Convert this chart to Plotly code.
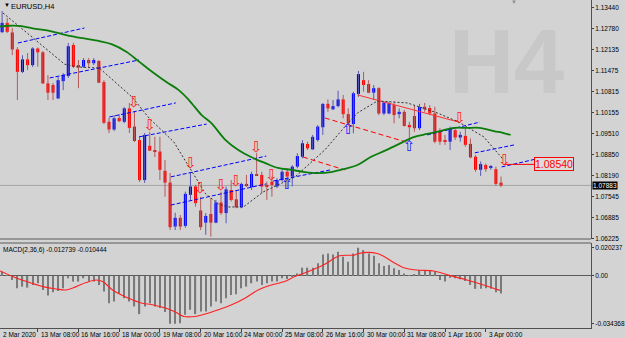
import plotly.graph_objects as go

# ---------------- data ----------------
bar_idx = list(range(1, 100))
opens = [1.1267,1.1296,1.1266,1.1213,1.1143,1.1182,1.1164,1.1216,1.1204,1.1107,
         1.1102,1.1060,1.1114,1.1130,1.1227,1.1164,1.1159,1.1180,1.1170,1.1177,
         1.1111,1.0987,1.0963,1.0999,1.0987,1.1029,1.0972,1.0930,1.0805,1.0912,
         1.0899,1.0894,1.0834,1.0797,1.0660,1.0687,1.0662,1.0759,1.0785,1.0710,
         1.0672,1.0699,1.0672,1.0735,1.0702,1.0774,1.0745,1.0720,1.0793,1.0783,
         1.0824,1.0821,1.0790,1.0800,1.0785,1.0805,1.0831,1.0816,1.0847,1.0878,
         1.0918,1.0901,1.0930,1.0970,1.1043,1.1026,1.1036,1.1057,1.1011,1.0980,
         1.1074,1.1117,1.1105,1.1078,1.1092,1.1013,1.1013,1.1039,1.1011,1.1018,
         1.0977,1.1005,1.0967,1.1034,1.1030,1.1013,1.0956,1.0930,1.0925,1.0961,
         1.0938,1.0943,1.0918,1.0878,1.0837,1.0852,1.0845,1.0839,1.0797]
highs = [1.1333,1.1311,1.1280,1.1220,1.1195,1.1202,1.1220,1.1219,1.1208,1.1133,
         1.1108,1.1127,1.1139,1.1233,1.1234,1.1180,1.1186,1.1186,1.1186,1.1180,
         1.1117,1.0999,1.1008,1.1011,1.1033,1.1046,1.1018,1.0940,1.0952,1.0956,
         1.0940,1.0940,1.0868,1.0827,1.0703,1.0696,1.0769,1.0827,1.0790,1.0753,
         1.0702,1.0749,1.0743,1.0769,1.0785,1.0805,1.0774,1.0797,1.0821,1.0831,
         1.0889,1.0831,1.0800,1.0816,1.0811,1.0837,1.0842,1.0852,1.0889,1.0930,
         1.0925,1.0946,1.0977,1.1045,1.1057,1.1055,1.1084,1.1071,1.1029,1.1081,
         1.1146,1.1143,1.1117,1.1102,1.1095,1.1050,1.1050,1.1050,1.1029,1.1024,
         1.0987,1.1039,1.1043,1.1046,1.1039,1.1034,1.0967,1.0946,1.0972,1.0967,
         1.0956,1.0967,1.0935,1.0883,1.0863,1.0857,1.0852,1.0847,1.0816]
lows = [1.1264,1.1264,1.1195,1.1055,1.1139,1.1149,1.1158,1.1159,1.1105,1.1055,
        1.1055,1.1058,1.1086,1.1124,1.1155,1.1092,1.1155,1.1158,1.1164,1.1108,
        1.0980,1.0952,1.0958,1.0986,1.0983,1.0952,1.0924,1.0799,1.0796,1.0896,
        1.0877,1.0805,1.0753,1.0649,1.0649,1.0649,1.0656,1.0743,1.0722,1.0649,
        1.0634,1.0628,1.0670,1.0696,1.0670,1.0738,1.0717,1.0717,1.0784,1.0774,
        1.0818,1.0764,1.0743,1.0753,1.0780,1.0800,1.0780,1.0785,1.0842,1.0873,
        1.0899,1.0899,1.0925,1.0946,1.1018,1.1024,1.1032,1.0998,1.0977,1.0951,
        1.1065,1.1081,1.1076,1.1055,1.1008,1.1008,1.1011,1.0982,1.0998,1.0972,
        1.0925,1.0956,1.0961,1.1018,1.1008,1.0920,1.0915,1.0915,1.0899,1.0930,
        1.0925,1.0909,1.0873,1.0831,1.0818,1.0831,1.0837,1.0787,1.0783]
closes = [1.1296,1.1268,1.1213,1.1143,1.1182,1.1164,1.1216,1.1204,1.1107,1.1078,
          1.1078,1.1117,1.1133,1.1223,1.1159,1.1157,1.1180,1.1170,1.1180,1.1109,
          1.0984,1.0963,1.0998,1.0989,1.1029,1.0968,1.0927,1.0805,1.0946,1.0897,
          1.0893,1.0837,1.0797,1.0658,1.0687,1.0660,1.0762,1.0785,1.0733,1.0658,
          1.0693,1.0672,1.0735,1.0702,1.0776,1.0743,1.0720,1.0793,1.0786,1.0824,
          1.0819,1.0785,1.0785,1.0790,1.0805,1.0831,1.0816,1.0847,1.0880,1.0920,
          1.0904,1.0940,1.0972,1.1043,1.1029,1.1036,1.1057,1.1011,1.0982,1.1076,
          1.1136,1.1102,1.1078,1.1092,1.1013,1.1047,1.1045,1.1008,1.1018,1.0974,
          1.0970,1.0967,1.1033,1.1026,1.1013,1.0925,1.0925,1.0925,1.0967,1.0938,
          1.0946,1.0915,1.0876,1.0837,1.0855,1.0839,1.0847,1.0793,1.07883]

# moving average (green)
ma_x = [0.59,2.5,4.8,7.0,10.3,13.6,16.8,20.1,22.6,25.4,27.9,30.4,33.2,35.7,37.7,40.2,
        42.1,44.9,47.4,49.9,52.7,55.2,57.8,60.5,63.0,65.6,68.3,70.8,73.4,76.1,78.6,
        82.0,84.5,87.0,89.8,92.3,94.8,97.6,99.5,100.9]
ma_y = [1.1284,1.1287,1.1286,1.1279,1.1271,1.1258,1.1248,1.1239,1.1229,1.1206,1.1175,
        1.1144,1.1112,1.1086,1.1055,1.1008,1.0983,1.0930,1.0899,1.0877,1.0858,1.0843,
        1.0837,1.0830,1.0827,1.0830,1.0840,1.0852,1.0877,1.0896,1.0915,1.0940,1.0949,
        1.0958,1.0968,1.0968,1.0968,1.0958,1.0952,1.0946]

# dotted zigzag
zz_x = [1.17,13.27,15.80,20.10,26.54,29.85,34.73,40.98,43.51,45.46,48.39,52.29,58.54,
        64.39,68.29,70.83,74.73,80.59,86.44,90.73,95.61,99.51]
zz_y = [1.1327,1.1167,1.1158,1.1155,1.1064,1.0999,1.0924,1.0762,1.0730,1.0721,1.0721,
        1.0768,1.0815,1.0899,1.0971,1.1015,1.1052,1.1046,1.1015,1.0986,1.0940,1.0868]

# blue dashed channel segments
blue_x0 = [4.10,10.34,22.05,27.90,34.15,34.15,54.24,84.49,93.85,99.12]
blue_y0 = [1.1233,1.1124,1.1002,1.0940,1.0815,1.0727,1.0802,1.0946,1.0890,1.0846]
blue_x1 = [17.17,27.90,35.12,41.17,52.88,52.88,65.56,94.83,101.66,105.95]
blue_y1 = [1.1280,1.1180,1.1046,1.0980,1.0880,1.0793,1.0837,1.0986,1.0915,1.0871]

# red dashed segments
red_x0 = [64.39,60.10]
red_y0 = [1.0999,1.0877]
red_x1 = [80.98,68.29]
red_y1 = [1.0921,1.0837]
# red solid segment
reds_x = [70.83,90.73]
reds_y = [1.1071,1.0986]

# level label
level_x = [99.51,105.56]
level_price = 1.08540

# arrows
dn_x = [26.93,29.99,37.99,39.94,44.0,46.93,50.93,53.95,90.87,99.71]
dn_y = [1.1046,1.0974,1.0855,1.0777,1.0787,1.0797,1.0904,1.0816,1.0996,1.0865]
up_x = [56.98,69.0,80.98]
up_y = [1.0790,1.0960,1.0907]

# MACD histogram
macd = [0.0030,0.0005,-0.0029,-0.0089,-0.0077,-0.0084,-0.0065,-0.0053,-0.0101,-0.0141,
        -0.0117,-0.0108,-0.0089,-0.0017,-0.0041,-0.0041,-0.0017,-0.0041,-0.0041,-0.0065,
        -0.0112,-0.0196,-0.0184,-0.0124,-0.0160,-0.0184,-0.0219,-0.0274,-0.0219,-0.0196,
        -0.0219,-0.0231,-0.0260,-0.0344,-0.0344,-0.0340,-0.0279,-0.0243,-0.0274,-0.0255,
        -0.0255,-0.0219,-0.0184,-0.0196,-0.0160,-0.0137,-0.0131,-0.0089,-0.0077,-0.0053,
        -0.0041,-0.0065,-0.0053,-0.0041,-0.0041,-0.0017,-0.0022,-0.0005,0.0018,0.0059,
        0.0059,0.0059,0.0090,0.0154,0.0161,0.0154,0.0173,0.0137,0.0101,0.0161,
        0.0202,0.0185,0.0161,0.0144,0.0090,0.0071,0.0078,0.0054,0.0042,0.0018,
        0.0006,0.0011,0.0042,0.0042,0.0042,0.0035,-0.0029,-0.0041,-0.0013,-0.0017,
        -0.0024,-0.0036,-0.0065,-0.0093,-0.0093,-0.0089,-0.0093,-0.0117,-0.0127]
sig_x = [0.59,3.18,5.8,9.03,11.65,13.6,15.55,17.5,19.45,20.74,22.7,24.64,26.6,28.55,30.5,
         33.1,35.06,36.7,38.97,40.9,43.5,46.1,48.7,51.3,53.9,56.5,58.5,60.4,64.1,67.3,
         70.2,71.0,74.7,78.0,79.9,82.5,85.8,89.0,92.3,95.6,98.8]
sig_y = [0.0035,-0.0006,-0.0041,-0.0077,-0.0094,-0.0101,-0.0077,-0.0048,-0.0029,-0.0041,
         -0.0101,-0.0141,-0.0172,-0.0196,-0.0207,-0.0231,-0.0260,-0.0291,-0.0291,-0.0274,
         -0.0243,-0.0207,-0.0160,-0.0101,-0.0065,-0.0041,-0.0005,0.0020,0.0078,0.0144,
         0.0149,0.0161,0.0161,0.0095,0.0059,0.0042,0.0035,0.0002,-0.0029,-0.0065,-0.0104]

price_ticks = [1.13440,1.12780,1.12135,1.11475,1.10815,1.10155,1.09510,1.08850,
               1.08190,1.07545,1.06885,1.06225]
macd_ticks = [0.020237, 0.0, -0.034368]
macd_tick_text = ["0.020237", "0.00", "-0.034368"]
date_idx = [8,16,24,32,40,48,56,64,72,80,88,96]
date_text = ["13 Mar 08:00","16 Mar 16:00","18 Mar 00:00","19 Mar 08:00","20 Mar 16:00",
             "24 Mar 00:00","25 Mar 08:00","26 Mar 16:00","30 Mar 00:00","31 Mar 08:00",
             "1 Apr 16:00","3 Apr 00:00"]
first_date_text = "2 Mar 2020"

# ---------------- figure ----------------
BG = "#d3d3d3"
FONT = "Liberation Sans, Arial, sans-serif"
fig = go.Figure()

bull = [c > o for o, c in zip(opens, closes)]
body_base = [min(o, c) for o, c in zip(opens, closes)]
body_len = [max(abs(c - o), 0.00012) for o, c in zip(opens, closes)]
body_col = ["#0000ff" if b else "#ff0000" for b in bull]

def wick_xy(up):
    xs, ys = [], []
    for i, h, l, b in zip(bar_idx, highs, lows, bull):
        if b == up:
            xs += [i, i, None]
            ys += [l, h, None]
    return xs, ys

for up, col in [(True, "#5a5ab4"), (False, "#b45a5a")]:
    wx, wy = wick_xy(up)
    fig.add_trace(go.Scatter(x=wx, y=wy, mode="lines", line=dict(color=col, width=1),
                             xaxis="x", yaxis="y", hoverinfo="skip"))

fig.add_trace(go.Bar(x=bar_idx, y=body_len, base=body_base, width=0.6,
                     marker=dict(color=body_col, line=dict(width=0)),
                     xaxis="x", yaxis="y"))

def seg_xy(x0, y0, x1, y1):
    xs, ys = [], []
    for a, b, c, d in zip(x0, y0, x1, y1):
        xs += [a, c, None]
        ys += [b, d, None]
    return xs, ys

bx, by = seg_xy(blue_x0, blue_y0, blue_x1, blue_y1)
fig.add_trace(go.Scatter(x=bx, y=by, mode="lines",
                         line=dict(color="#0000ff", width=1, dash="4px,2px"),
                         xaxis="x", yaxis="y"))
rx, ry = seg_xy(red_x0, red_y0, red_x1, red_y1)
fig.add_trace(go.Scatter(x=rx, y=ry, mode="lines",
                         line=dict(color="#ff0000", width=1, dash="5px,3px"),
                         xaxis="x", yaxis="y"))
fig.add_trace(go.Scatter(x=reds_x, y=reds_y, mode="lines",
                         line=dict(color="#ff3030", width=1), xaxis="x", yaxis="y"))
fig.add_trace(go.Scatter(x=zz_x, y=zz_y, mode="lines",
                         line=dict(color="#303030", width=1, dash="2px,2px"),
                         xaxis="x", yaxis="y"))
fig.add_trace(go.Scatter(x=ma_x, y=ma_y, mode="lines", line_shape="spline",
                         line=dict(color="#0b7d0b", width=1.8), xaxis="x", yaxis="y"))
fig.add_trace(go.Scatter(x=level_x, y=[level_price, level_price], mode="lines",
                         line=dict(color="#ff0000", width=1), xaxis="x", yaxis="y"))

fig.add_trace(go.Scatter(x=dn_x, y=dn_y, mode="text", text=["⇩"] * len(dn_x),
                         textfont=dict(color="#ff1a1a", size=15, family="DejaVu Sans"),
                         xaxis="x", yaxis="y"))
fig.add_trace(go.Scatter(x=up_x, y=up_y, mode="text", text=["⇧"] * len(up_x),
                         textfont=dict(color="#1a1aff", size=15, family="DejaVu Sans"),
                         xaxis="x", yaxis="y"))

# MACD pane
fig.add_trace(go.Bar(x=bar_idx, y=macd, width=0.25,
                     marker=dict(color="#7a7a7a", line=dict(width=0)),
                     xaxis="x2", yaxis="y2"))
fig.add_trace(go.Scatter(x=sig_x, y=sig_y, mode="lines", line_shape="spline",
                         line=dict(color="#ff2020", width=1.1), xaxis="x2", yaxis="y2"))

# ---------------- layout ----------------
W, H = 625, 338
MB = 10
PH = H - MB
main_bot = (PH - 239) / PH
macd_top = (PH - 243) / PH
price_top = 1.13674
price_bot = price_top - 239 / 3202
xr = [0.585, 116.68]

axis_common = dict(showgrid=False, zeroline=False, fixedrange=True)
fig.update_layout(
    width=W, height=H, margin=dict(l=0, r=30, t=0, b=MB),
    paper_bgcolor=BG, plot_bgcolor=BG, showlegend=False, barmode="overlay",
    font=dict(family=FONT, size=7, color="#000000"),
    xaxis=dict(domain=[0, 1], range=xr, anchor="y", showticklabels=False,
               showline=False, **axis_common),
    yaxis=dict(domain=[main_bot, 1], range=[price_bot, price_top], side="right",
               tickvals=price_ticks, ticktext=[f"{v:.5f}" for v in price_ticks],
               tickfont=dict(size=6.5), ticks="outside", ticklen=2, tickcolor="#404040",
               showline=True, linecolor="#505050", linewidth=1, anchor="x", **axis_common),
    xaxis2=dict(domain=[0, 1], range=xr, anchor="y2", matches="x", showticklabels=False,
                tickvals=date_idx, ticks="outside", ticklen=3, tickcolor="#404040",
                showline=True, linecolor="#505050", linewidth=1, **axis_common),
    yaxis2=dict(domain=[0, macd_top], range=[-0.0374, 0.0236], side="right",
                tickvals=macd_ticks, ticktext=macd_tick_text, tickfont=dict(size=6.5),
                ticks="outside", ticklen=2, tickcolor="#404040", showline=True,
                linecolor="#505050", linewidth=1, anchor="x2",
                showgrid=False, fixedrange=True, zeroline=True,
                zerolinecolor="#5a5a5a", zerolinewidth=1),
)

shapes = [
    dict(type="line", xref="paper", yref="paper", x0=0, x1=1, y0=main_bot, y1=main_bot,
         line=dict(color="#5a5a5a", width=1)),
    dict(type="line", xref="paper", yref="paper", x0=0, x1=1, y0=macd_top, y1=macd_top,
         line=dict(color="#5a5a5a", width=1)),
    dict(type="line", xref="paper", yref="y", x0=0, x1=1, y0=closes[-1], y1=closes[-1],
         line=dict(color="#a6a6a6", width=1), layer="below"),
]
fig.update_layout(shapes=shapes)

ann = [
    dict(text="<b>H4</b>", xref="paper", yref="paper", x=510 / 595, y=(PH - 62) / PH,
         xanchor="center", yanchor="middle",
         showarrow=False, font=dict(size=90, color="#c8c8c8",
                                    family="Liberation Sans Narrow, Liberation Sans, Arial")),
    dict(text="▼", xref="paper", yref="paper", x=2 / 595, y=1, xanchor="left",
         yanchor="top", showarrow=False, font=dict(size=6, color="#000000")),
    dict(text="EURUSD,H4", xref="paper", yref="paper", x=9 / 595, y=1, xanchor="left",
         yanchor="top", showarrow=False, font=dict(size=7.5, color="#000000")),
    dict(text="▼", xref="paper", yref="paper", x=517 / 595, y=1, xanchor="center",
         yanchor="top", showarrow=False, yshift=3, font=dict(size=6, color="#909090")),
    dict(text="MACD(2,36,6) -0.012739 -0.010444", xref="paper", yref="paper",
         x=1 / 595, y=(PH - 244) / PH, xanchor="left", yanchor="top", showarrow=False,
         font=dict(size=6.5, color="#000000")),
    dict(text=f"{closes[-1]:.5f}", xref="paper", yref="y", x=1, y=closes[-1],
         xanchor="left", yanchor="middle", xshift=1, showarrow=False, bgcolor="#000000",
         borderpad=0, font=dict(size=6.5, color="#ffffff")),
    dict(text=f"{level_price:.5f}", xref="x", yref="y", x=level_x[1], y=level_price,
         xanchor="left", yanchor="middle", showarrow=False, bgcolor="#dcdcdc",
         bordercolor="#ff0000", borderwidth=1, borderpad=0,
         font=dict(size=10.5, color="#ff0000")),
    dict(text=first_date_text, xref="paper", yref="paper", x=1 / 595, y=0,
         xanchor="left", yanchor="top", showarrow=False, yshift=-1,
         font=dict(size=6.5, color="#000000")),
]
for i, t in zip(date_idx, date_text):
    ann.append(dict(text=t, x=i, y=0, xref="x2", yref="paper", xanchor="left",
                    yanchor="top", xshift=1, yshift=-1, showarrow=False,
                    font=dict(size=6.5, color="#000000")))
fig.update_layout(annotations=ann)

fig.write_html("out.html")
